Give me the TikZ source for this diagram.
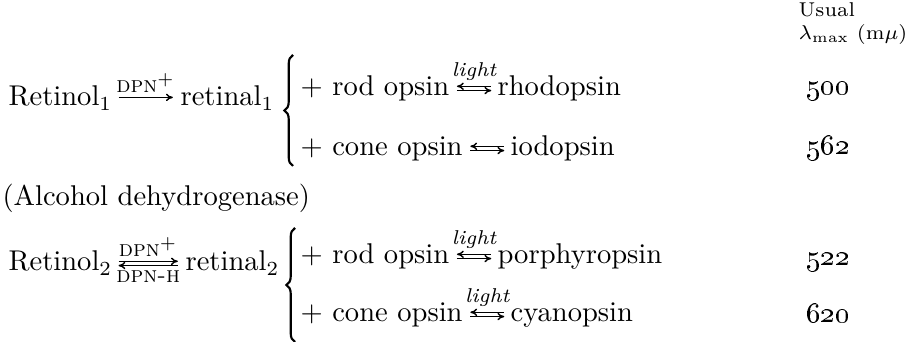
\documentclass[tikz,border=0pt]{standalone}
\usepackage{tikz}
\usetikzlibrary{arrows.meta, decorations.pathreplacing}

\tikzset{
    species/.style={inner sep=0pt, anchor=base west},
    colhead/.style={species, font=\fontsize{7}{9}\selectfont},
    cond/.style={font=\scriptsize\itshape, inner sep=1.6pt},
    enzyme/.style={font=\footnotesize, inner sep=1.4pt},
    fwd/.style={-{To[length=2.4pt, width=2.6pt]}, line width=0.5pt},
    bwd/.style={{To[length=2.4pt, width=2.6pt]}-, line width=0.5pt},
    curly/.style={decorate, decoration={brace, amplitude=3pt}, line width=0.75pt},
}

\begin{document}
\begin{tikzpicture}[x=0.35pt, y=-0.35pt]
    \useasboundingbox (0,0) rectangle (906,342);

    % header of the last column
    \node[colhead] (usual) at (798,17) {Usual};
    \node[colhead] (lmax) at (798,40) {$\lambda_{\max}$ (m$\mu$)};

    % retinol 1
    \node[species] (rol1) at (8,106) {Retinol$_1$};
    \node[species] (ral1) at (180,106) {retinal$_1$};
    \draw[fwd] ([xshift=2pt, yshift=3pt]rol1.base east) -- node[enzyme, above] {\textsc{dpn}$^+$} ([xshift=-2.5pt, yshift=3pt]ral1.base west);
    \coordinate (b1top) at (293,55);
    \coordinate (b1bot) at (293,166);
    \draw[curly] (b1bot) -- (b1top);

    \node[species] (rod1) at (300,96) {$+$ rod opsin};
    \node[species] (rho) at (497,96) {rhodopsin};
    \draw[bwd] ([xshift=2.5pt, yshift=3.4pt]rod1.base east) -- node[cond, above] {light} ([xshift=-2pt, yshift=3.4pt]rho.base west);
    \draw[fwd] ([xshift=2.5pt, yshift=1.9pt]rod1.base east) -- ([xshift=-2pt, yshift=1.9pt]rho.base west);
    \node[species] (v500) at (806,95) {\oldstylenums{500}};

    \node[species] (cone1) at (300,156) {$+$ cone opsin};
    \node[species] (iod) at (510,156) {iodopsin};
    \draw[bwd] ([xshift=2.5pt, yshift=3.4pt]cone1.base east) -- ([xshift=-2pt, yshift=3.4pt]iod.base west);
    \draw[fwd] ([xshift=2.5pt, yshift=1.9pt]cone1.base east) -- ([xshift=-2pt, yshift=1.9pt]iod.base west);
    \node[species] (v562) at (806,155) {\oldstylenums{562}};

    \node[species] (adh) at (2,206) {(Alcohol dehydrogenase)};

    % retinol 2
    \node[species] (rol2) at (8,271) {Retinol$_2$};
    \node[species] (ral2) at (185,271) {retinal$_2$};
    \draw[fwd] ([xshift=2pt, yshift=3.4pt]rol2.base east) -- node[enzyme, above] {\textsc{dpn}$^+$} ([xshift=-2.5pt, yshift=3.4pt]ral2.base west);
    \draw[bwd] ([xshift=2pt, yshift=1.9pt]rol2.base east) -- node[enzyme, below] {\textsc{dpn-h}} ([xshift=-2.5pt, yshift=1.9pt]ral2.base west);
    \coordinate (b2top) at (295,228);
    \coordinate (b2bot) at (295,342);
    \draw[curly] (b2bot) -- (b2top);

    \node[species] (rod2) at (300,264) {$+$ rod opsin};
    \node[species] (por) at (497,264) {porphyropsin};
    \draw[bwd] ([xshift=2.5pt, yshift=3.4pt]rod2.base east) -- node[cond, above] {light} ([xshift=-2pt, yshift=3.4pt]por.base west);
    \draw[fwd] ([xshift=2.5pt, yshift=1.9pt]rod2.base east) -- ([xshift=-2pt, yshift=1.9pt]por.base west);
    \node[species] (v522) at (806,266) {\oldstylenums{522}};

    \node[species] (cone2) at (300,322) {$+$ cone opsin};
    \node[species] (cya) at (510,322) {cyanopsin};
    \draw[bwd] ([xshift=2.5pt, yshift=3.4pt]cone2.base east) -- node[cond, above] {light} ([xshift=-2pt, yshift=3.4pt]cya.base west);
    \draw[fwd] ([xshift=2.5pt, yshift=1.9pt]cone2.base east) -- ([xshift=-2pt, yshift=1.9pt]cya.base west);
    \node[species] (v620) at (806,323) {\oldstylenums{620}};
\end{tikzpicture}
\end{document}
